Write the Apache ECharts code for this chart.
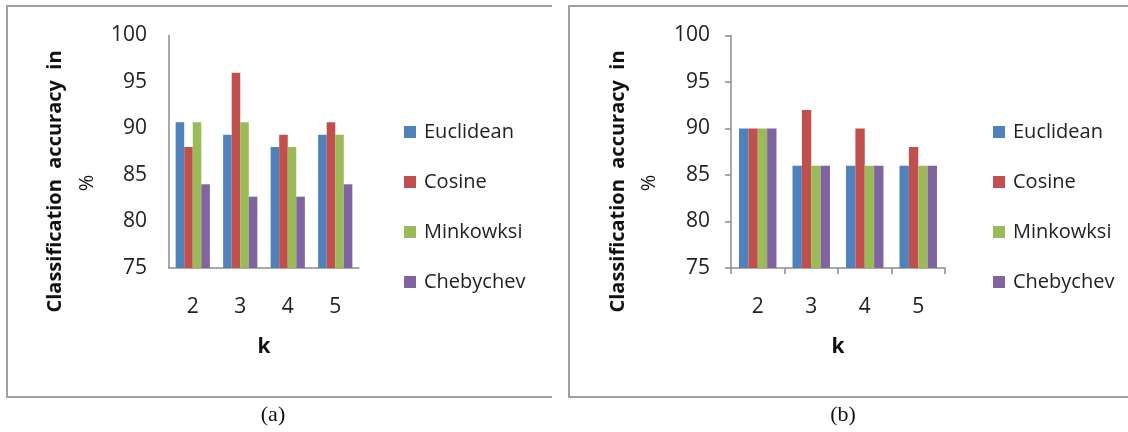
<!DOCTYPE html>
<html>
<head>
<meta charset="utf-8">
<script src="https://cdn.jsdelivr.net/npm/echarts@6/dist/echarts.min.js"></script>
<style>
html,body{margin:0;padding:0;background:#fff;}
#chart{width:1128px;height:432px;}
</style>
</head>
<body>
<div id="chart"></div>
<script>
const categories = ['2', '3', '4', '5'];
const seriesNames = ['Euclidean', 'Cosine', 'Minkowksi', 'Chebychev'];
const yTicks = [75, 80, 85, 90, 95, 100];

// Panel (a)
const euclideanA = [90.67, 89.33, 88, 89.33];
const cosineA = [88, 96, 89.33, 90.67];
const minkowskiA = [90.67, 90.67, 88, 89.33];
const chebychevA = [84, 82.67, 82.67, 84];

// Panel (b)
const euclideanB = [90, 86, 86, 86];
const cosineB = [90, 92, 90, 88];
const minkowskiB = [90, 86, 86, 86];
const chebychevB = [90, 86, 86, 86];

const yTitle = 'Classification  accuracy  in';
const yTitle2 = '%';
const xTitle = 'k';
const panelLabels = ['(a)', '(b)'];

const colors = ['#4F81BD', '#C0504D', '#9BBB59', '#8064A2'];
const FONT = '"Open Sans", "Liberation Sans", sans-serif';
const axisColor = '#8c8c8c';

function xAxisCfg(gridIndex, ticks) {
  return {
    type: 'category', gridIndex, data: categories,
    name: xTitle, nameLocation: 'middle', nameGap: 69,
    nameTextStyle: { fontFamily: FONT, fontWeight: 'bold', fontSize: 21, color: '#111' },
    axisLine: { lineStyle: { color: axisColor, width: 1.5 } },
    axisTick: { show: ticks, length: 6, lineStyle: { color: axisColor, width: 1.5 } },
    axisLabel: { margin: 29, fontFamily: FONT, fontSize: 21, color: '#222' },
    splitLine: { show: false }
  };
}
function yAxisCfg(gridIndex, ticks, margin) {
  return {
    type: 'value', gridIndex, min: yTicks[0], max: yTicks[yTicks.length - 1], interval: 5,
    axisLine: { show: true, lineStyle: { color: axisColor, width: 1.5 } },
    axisTick: { show: ticks, length: 6, lineStyle: { color: axisColor, width: 1.5 } },
    axisLabel: { margin, fontFamily: FONT, fontSize: 21, color: '#222' },
    splitLine: { show: false }
  };
}
function bar(name, data, idx, gridIdx, gap) {
  return {
    type: 'bar', name, data, xAxisIndex: gridIdx, yAxisIndex: gridIdx,
    itemStyle: { color: colors[idx] },
    barGap: '0%', barCategoryGap: gap,
    emphasis: { disabled: true }
  };
}
function legendCfg(left) {
  return {
    orient: 'vertical', left, top: 117, itemWidth: 12, itemHeight: 12, itemGap: 30,
    icon: 'rect', data: seriesNames,
    textStyle: { fontFamily: FONT, fontSize: 20, color: '#222', lineHeight: 20, padding: [0, 0, 0, 3] }
  };
}
function rotText(x, y, text, weight) {
  return {
    type: 'text', x, y, rotation: Math.PI / 2,
    style: { text, font: weight + ' 20px ' + FONT, align: 'center', verticalAlign: 'middle', fill: '#111' }
  };
}

const chart = echarts.init(document.getElementById('chart'), null, { renderer: 'canvas' });
chart.setOption({
  animation: false,
  color: colors,
  grid: [
    { left: 169, top: 35.5, width: 190, height: 232.5, outerBoundsMode: 'none', containLabel: false },
    { left: 731, top: 35.5, width: 214, height: 232.5, outerBoundsMode: 'none', containLabel: false }
  ],
  xAxis: [xAxisCfg(0, false), xAxisCfg(1, true)],
  yAxis: [yAxisCfg(0, false, 22), yAxisCfg(1, true, 21)],
  legend: [legendCfg(399), legendCfg(988)],
  series: [
    bar(seriesNames[0], euclideanA, 0, 0, '28%'),
    bar(seriesNames[1], cosineA, 1, 0, '28%'),
    bar(seriesNames[2], minkowskiA, 2, 0, '28%'),
    bar(seriesNames[3], chebychevA, 3, 0, '28%'),
    bar(seriesNames[0], euclideanB, 0, 1, '30%'),
    bar(seriesNames[1], cosineB, 1, 1, '30%'),
    bar(seriesNames[2], minkowskiB, 2, 1, '30%'),
    bar(seriesNames[3], chebychevB, 3, 1, '30%')
  ],
  graphic: [
    { type: 'polyline', shape: { points: [[552, 6], [7, 6], [7, 397], [552, 397]] },
      style: { stroke: '#a0a0a0', lineWidth: 2, fill: null } },
    { type: 'polyline', shape: { points: [[1128, 6], [569, 6], [569, 397], [1128, 397]] },
      style: { stroke: '#a0a0a0', lineWidth: 2, fill: null } },
    rotText(55, 181.5, yTitle, 'bold'),
    rotText(87, 183, yTitle2, 'normal'),
    rotText(618, 181.5, yTitle, 'bold'),
    rotText(649, 183, yTitle2, 'normal'),
    { type: 'text', x: 273, y: 415,
      style: { text: panelLabels[0], font: '22px "Liberation Serif", serif', align: 'center', verticalAlign: 'middle', fill: '#111' } },
    { type: 'text', x: 843, y: 415,
      style: { text: panelLabels[1], font: '22px "Liberation Serif", serif', align: 'center', verticalAlign: 'middle', fill: '#111' } }
  ]
});
</script>
</body>
</html>
